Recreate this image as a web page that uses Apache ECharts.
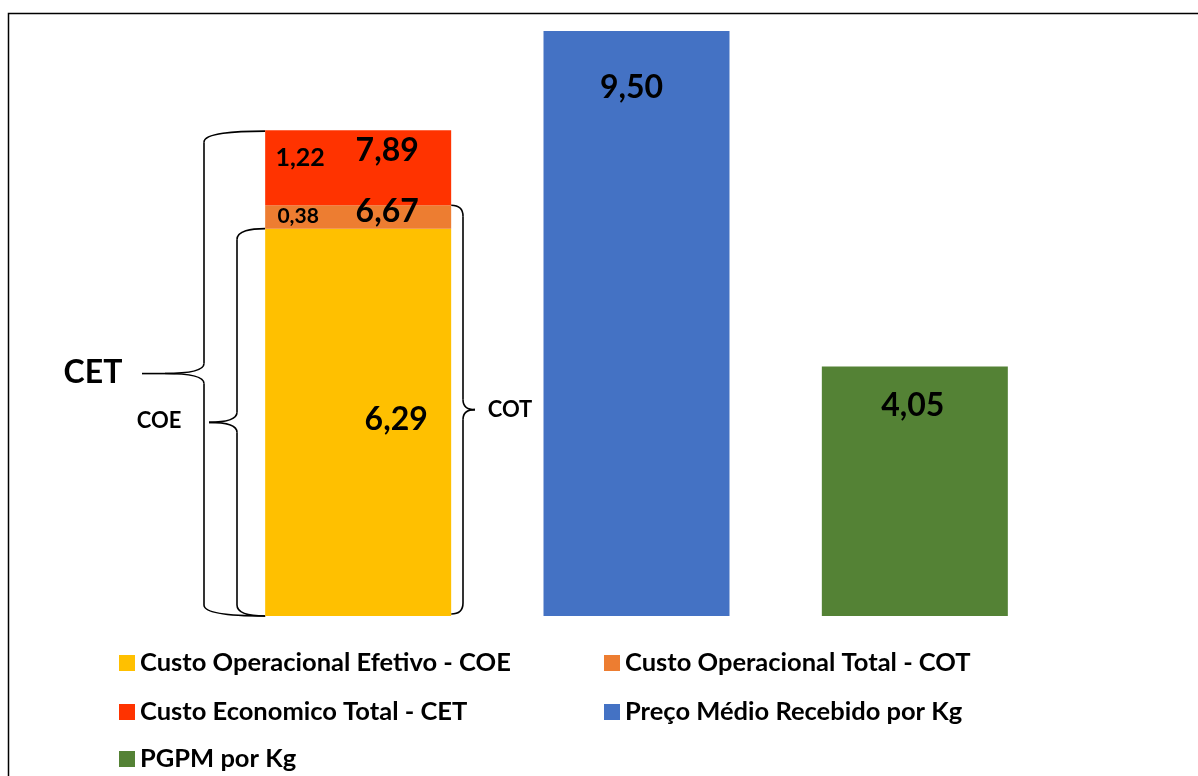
<!DOCTYPE html>
<html>
<head>
<meta charset="utf-8">
<script src="https://cdn.jsdelivr.net/npm/echarts@6/dist/echarts.min.js"></script>
<style>
  html, body { margin: 0; padding: 0; background: #fff; }
  #main { width: 1198px; height: 776px; }
</style>
</head>
<body>
<div id="main"></div>
<script>
// dados
var categorias = ['Custos', 'Preço', 'PGPM']
var coe = [6.29, '-', '-']
var cotParcela = [0.38, '-', '-']
var cetParcela = [1.22, '-', '-']
var precoMedio = ['-', 9.50, '-']
var pgpm = ['-', '-', 4.05]
var totaisCusto = [6.67, 7.89]   // COT e CET acumulados

var nomes = [
  'Custo Operacional Efetivo - COE',
  'Custo Operacional Total - COT',
  'Custo Economico Total - CET',
  'Preço Médio Recebido por Kg',
  'PGPM por Kg'
]

var FONTE = 'Lato'

function fmt(v) {
  return Number(v).toFixed(2).replace('.', ',')
}

function rotulo(extra) {
  var base = {
    show: true,
    color: '#000',
    textBorderWidth: 0,
    fontFamily: FONTE,
    fontWeight: 'bold',
    fontSize: 32,
    formatter: function (p) { return fmt(Array.isArray(p.value) ? p.value[1] : p.value) }
  }
  for (var k in extra) base[k] = extra[k]
  return base
}

// uma legenda por item, em duas colunas
function legenda(nome, left, centroY) {
  return {
    data: [nome], left: left, top: centroY - 12, padding: 0,
    icon: 'rect', itemWidth: 16, itemHeight: 16,
    selectedMode: false,
    textStyle: { fontFamily: FONTE, fontWeight: 'bold', fontSize: 25.5, lineHeight: 24, color: '#000' }
  }
}

var option = {
  animation: false,
  backgroundColor: '#fff',
  grid: { left: 219, width: 835, top: 31, bottom: 160 },
  xAxis: { type: 'category', data: categorias, show: false },
  yAxis: { type: 'value', min: 0, max: 9.5, show: false },
  legend: [
    legenda(nomes[0], 119, 662),
    legenda(nomes[1], 604, 662),
    legenda(nomes[2], 119, 711),
    legenda(nomes[3], 604, 711),
    legenda(nomes[4], 119, 758)
  ],
  series: [
    {
      name: nomes[0], type: 'bar', stack: 'custo',
      data: coe, barWidth: 186, barGap: '-100%',
      itemStyle: { color: '#FFC000' },
      label: rotulo({ position: 'inside', offset: [38, -3] })
    },
    {
      name: nomes[1], type: 'bar', stack: 'custo',
      data: cotParcela, barWidth: 186, barGap: '-100%',
      itemStyle: { color: '#ED7D31' },
      label: rotulo({ position: 'inside', offset: [-60, -1], fontSize: 21 })
    },
    {
      name: nomes[2], type: 'bar', stack: 'custo',
      data: cetParcela, barWidth: 186, barGap: '-100%',
      itemStyle: { color: '#FF3300' },
      label: rotulo({ position: 'inside', offset: [-58, -10], fontSize: 25 })
    },
    {
      name: nomes[3], type: 'bar',
      data: precoMedio, barWidth: 186, barGap: '-100%',
      itemStyle: { color: '#4472C4' },
      label: rotulo({ position: ['50%', 57], align: 'center', verticalAlign: 'middle', offset: [-5, 0] })
    },
    {
      name: nomes[4], type: 'bar',
      data: pgpm, barWidth: 186, barGap: '-100%',
      itemStyle: { color: '#548235' },
      label: rotulo({ position: ['50%', 39], align: 'center', verticalAlign: 'middle', offset: [-2, 0] })
    },
    {
      // rotulos dos valores acumulados (COT e CET)
      name: 'totais', type: 'scatter', symbolSize: 0, z: 5,
      itemStyle: { color: 'rgba(0,0,0,0)', opacity: 1 },
      data: totaisCusto.map(function (v, i) {
        return { value: [0, v], label: { offset: i === 0 ? [29, 6] : [29, 21] } }
      }),
      label: rotulo({ position: 'inside' })
    }
  ]
}

var myChart = echarts.init(document.getElementById('main'))
myChart.setOption(option)

// chaves (brace) desenhadas a partir da escala do grafico
function chave(xv, xe, yT, yB, xt) {
  var yM = (yT + yB) / 2
  var mx = (xe - xv) * 0.5
  var mt = (xt - xv) * 0.5
  var s = { stroke: '#000', lineWidth: 1.6, fill: 'none' }
  return [
    { type: 'bezierCurve', shape: { x1: xe, y1: yT, cpx1: xv + mx, cpy1: yT, cpx2: xv, cpy2: yT + 2, x2: xv, y2: yT + 11 }, style: s },
    { type: 'line', shape: { x1: xv, y1: yT + 11, x2: xv, y2: yM - 10 }, style: s },
    { type: 'bezierCurve', shape: { x1: xv, y1: yM - 10, cpx1: xv, cpy1: yM - 2, cpx2: xv + mt, cpy2: yM, x2: xt, y2: yM }, style: s },
    { type: 'bezierCurve', shape: { x1: xt, y1: yM, cpx1: xv + mt, cpy1: yM, cpx2: xv, cpy2: yM + 2, x2: xv, y2: yM + 10 }, style: s },
    { type: 'line', shape: { x1: xv, y1: yM + 10, x2: xv, y2: yB - 11 }, style: s },
    { type: 'bezierCurve', shape: { x1: xv, y1: yB - 11, cpx1: xv, cpy1: yB - 2, cpx2: xv + mx, cpy2: yB, x2: xe, y2: yB }, style: s }
  ]
}

function texto(x, y, t, size) {
  return {
    type: 'text', x: x, y: y, z: 10,
    style: { text: t, fill: '#000', font: 'bold ' + size + 'px ' + FONTE, align: 'center', verticalAlign: 'middle' }
  }
}

var yBase = myChart.convertToPixel({ gridIndex: 0 }, [0, 0])[1]
var yCoe = myChart.convertToPixel({ gridIndex: 0 }, [0, coe[0]])[1]
var yCot = myChart.convertToPixel({ gridIndex: 0 }, [0, totaisCusto[0]])[1]
var yCet = myChart.convertToPixel({ gridIndex: 0 }, [0, totaisCusto[1]])[1]
var xBar = myChart.convertToPixel({ gridIndex: 0 }, [0, 0])[0]
var xEsq = xBar - 93, xDir = xBar + 93

var elems = [
  { type: 'rect', shape: { x: 8.5, y: 13.5, width: 1300, height: 1000 }, style: { fill: 'none', stroke: '#000', lineWidth: 1.5 }, z: 0 }
]
elems = elems.concat(chave(204, xEsq, yCet + 1, yBase, 165))
elems.push({ type: 'line', shape: { x1: 142, y1: (yCet + 1 + yBase) / 2, x2: 165, y2: (yCet + 1 + yBase) / 2 }, style: { stroke: '#000', lineWidth: 1.6 } })
elems = elems.concat(chave(237, xEsq, yCoe, yBase, 209))
elems = elems.concat(chave(463, xDir, yCot, yBase - 2, 475))
elems.push(texto(93, 373, 'CET', 32))
elems.push(texto(159, 421, 'COE', 22))
elems.push(texto(510, 410, 'COT', 22))

myChart.setOption({ graphic: { elements: elems } })
</script>
</body>
</html>
